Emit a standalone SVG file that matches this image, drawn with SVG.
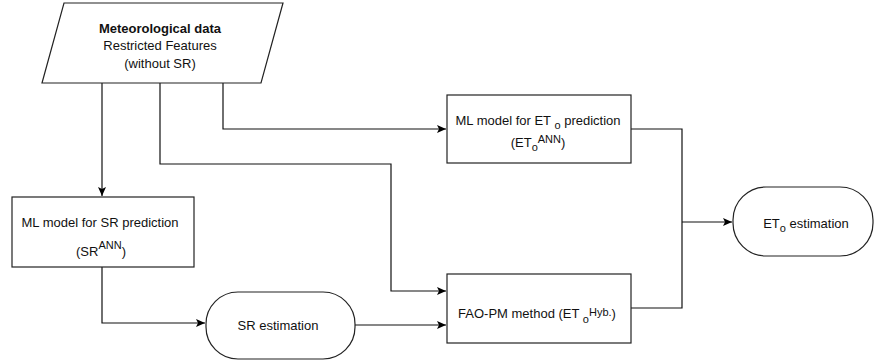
<svg xmlns="http://www.w3.org/2000/svg" width="874" height="363" viewBox="0 0 874 363">
<defs>
<marker id="arr" markerWidth="10" markerHeight="8" refX="9" refY="4" orient="auto" markerUnits="userSpaceOnUse">
<path d="M0,0 L9,4 L0,8 L2,4 Z" fill="#000"/>
</marker>
<style>
.sh{fill:#fff;stroke:#222;stroke-width:1.2}
.t{font-family:"Liberation Sans",Arial,sans-serif;font-size:13px;fill:#111;text-anchor:middle}
.b{font-weight:bold}
.sm{font-size:11px}
.c{fill:none;stroke:#111;stroke-width:1.2}
</style>
</defs>
<g id="connectors">
<path class="c" d="M102,83 V196" marker-end="url(#arr)"/>
<path class="c" d="M160,83 V164 H391 V291 H446" marker-end="url(#arr)"/>
<path class="c" d="M223,83 V129 H446" marker-end="url(#arr)"/>
<path class="c" d="M102,267 V323 H205" marker-end="url(#arr)"/>
<path class="c" d="M355,325 H446" marker-end="url(#arr)"/>
<path class="c" d="M631,129 H682 V308 H631"/>
<path class="c" d="M682,222 H732" marker-end="url(#arr)"/>
</g>
<g id="met-data">
<polygon class="sh" points="64,3 283,3 261,83 42,83"/>
<text class="t b" x="160" y="33">Meteorological data</text>
<text class="t" x="160" y="50">Restricted Features</text>
<text class="t" x="160" y="68">(without SR)</text>
</g>
<g id="ml-sr">
<rect class="sh" x="12" y="197" width="182" height="70"/>
<text class="t" x="100" y="227">ML model for SR prediction</text>
<text class="t" x="101" y="256">(SR<tspan class="sm" dy="-7">ANN</tspan><tspan dy="7">)</tspan></text>
</g>
<g id="sr-est">
<rect class="sh" x="206" y="292" width="149" height="67" rx="32" ry="32"/>
<text class="t" x="278" y="330">SR estimation</text>
</g>
<g id="ml-eto">
<rect class="sh" x="447" y="95" width="184" height="68"/>
<text class="t" x="538" y="125">ML model for ET <tspan class="sm" dy="4">o</tspan><tspan dy="-4"> prediction</tspan></text>
<text class="t" x="538" y="147">(ET<tspan class="sm" dy="4">o</tspan><tspan class="sm" dy="-8">ANN</tspan><tspan dy="4">)</tspan></text>
</g>
<g id="fao">
<rect class="sh" x="447" y="274" width="184" height="69"/>
<text class="t" x="537" y="318">FAO-PM method (ET <tspan class="sm" dy="5">o</tspan><tspan class="sm" dy="-7">Hyb.</tspan><tspan dy="2">)</tspan></text>
</g>
<g id="eto-est">
<rect class="sh" x="733" y="187" width="140" height="69" rx="33" ry="33"/>
<text class="t" x="806" y="228">ET<tspan class="sm" dy="4">o</tspan><tspan dy="-4"> estimation</tspan></text>
</g>
</svg>
